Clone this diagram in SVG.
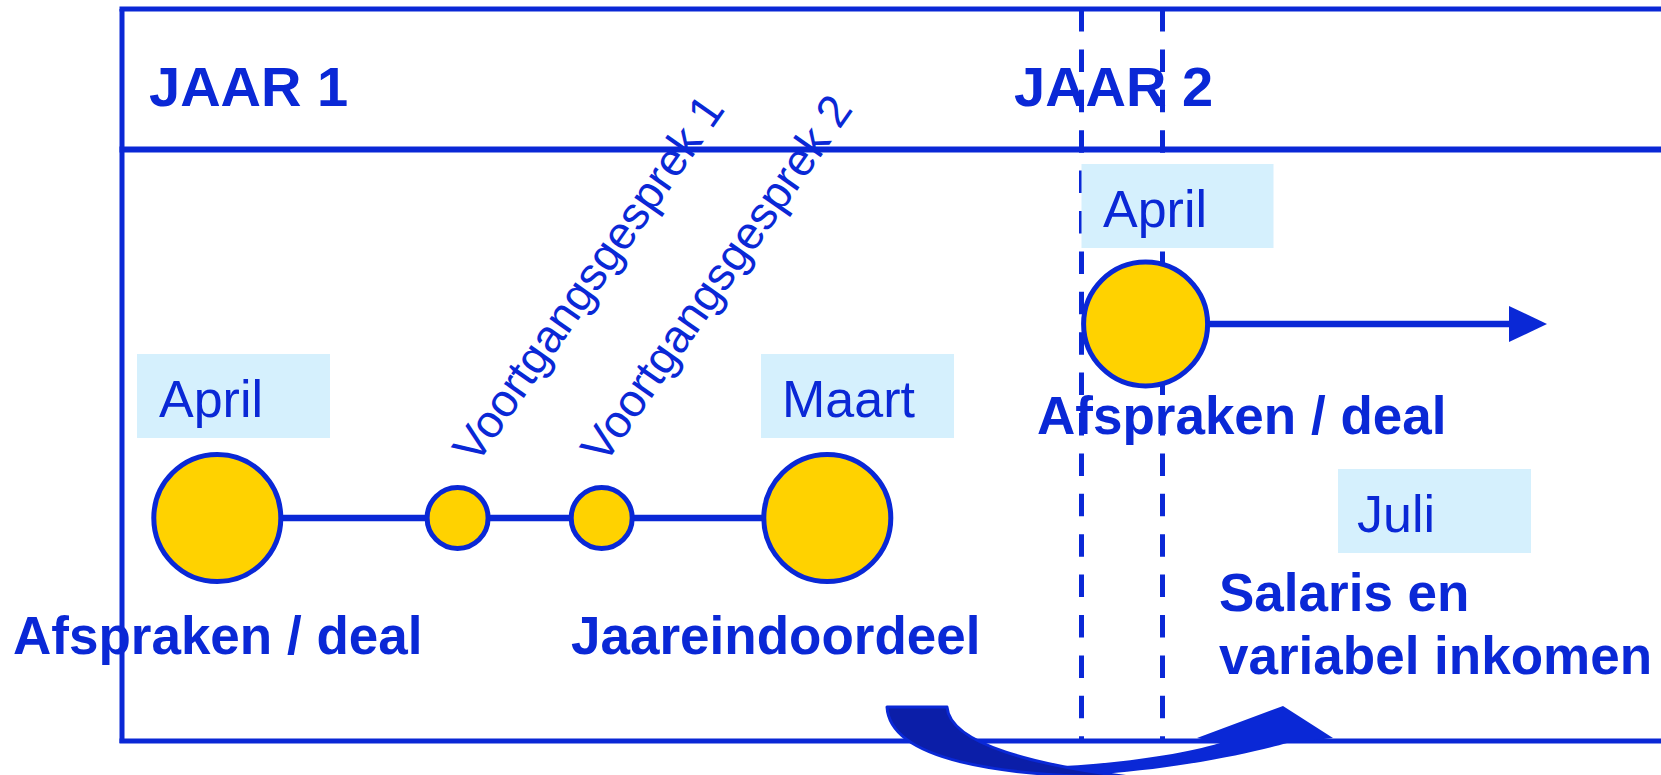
<svg xmlns="http://www.w3.org/2000/svg" width="1661" height="775" viewBox="0 0 1661 775">
<style>
.ln{stroke:#0A28D6;fill:none}
.box{fill:#D5F0FD}
.dot{fill:#FFD200;stroke:#0A28D6;stroke-width:5}
.reg{font-family:"Liberation Sans",Arial,sans-serif;font-size:52px;fill:#0A28D6}
.bold{font-family:"Liberation Sans",Arial,sans-serif;font-size:53px;font-weight:bold;fill:#0A28D6}
.hdr{font-family:"Liberation Sans",Arial,sans-serif;font-size:56px;font-weight:bold;fill:#0A28D6}
.rot{font-family:"Liberation Sans",Arial,sans-serif;font-size:46px;fill:#0A28D6}
</style>
<rect width="1661" height="775" fill="#FFFFFF"/>
<g id="frame">
<line class="ln" x1="119.5" y1="9" x2="1661" y2="9" stroke-width="5"/>
<line class="ln" x1="122" y1="9" x2="122" y2="743" stroke-width="5"/>
<line class="ln" x1="119.5" y1="149.5" x2="1661" y2="149.5" stroke-width="6"/>
<line class="ln" x1="119.5" y1="741" x2="1661" y2="741" stroke-width="5"/>
<line class="ln" x1="1081.5" y1="9" x2="1081.5" y2="741" stroke-width="5" stroke-dasharray="22.5 17.9"/>
<line class="ln" x1="1162.5" y1="9" x2="1162.5" y2="741" stroke-width="5" stroke-dasharray="22.5 17.9"/>
</g>
<g id="headers">
<text class="hdr" x="149" y="106">JAAR 1</text>
<text class="hdr" x="1014" y="106">JAAR 2</text>
</g>
<g id="connectors">
<line class="ln" x1="280" y1="518" x2="765" y2="518" stroke-width="6.5"/>
<line class="ln" x1="1208" y1="324" x2="1512" y2="324" stroke-width="6.5"/>
<polygon points="1509,306 1547,324 1509,342" fill="#0A28D6"/>
<path d="M1040,767 C1110,765 1180,755 1220,743 L1197,738 L1283,706 L1333,738 L1287,743 C1255,752 1185,768 1100,774 C1080,776 1060,777 1040,777 Z" fill="#0A28D6"/>
<path d="M887,707 L947,707 C950,745 1040,766 1130,777 C1000,777 890,760 887,707 Z" fill="#0B1EA8" stroke="#0A28D6" stroke-width="3" stroke-linejoin="round"/>
</g>
<g id="node-april-1">
<rect class="box" x="137" y="354" width="193" height="84"/>
<text class="reg" x="159" y="416.5">April</text>
<circle class="dot" cx="217.3" cy="518" r="63.5"/>
<text class="bold" x="13" y="654">Afspraken / deal</text>
</g>
<g id="node-voortgang-1">
<circle class="dot" cx="457.6" cy="518" r="30.5"/>
<text class="rot" transform="translate(476.5,465.5) rotate(-55)">Voortgangsgesprek 1</text>
</g>
<g id="node-voortgang-2">
<circle class="dot" cx="601.7" cy="518" r="30.5"/>
<text class="rot" transform="translate(604.5,465.5) rotate(-55)">Voortgangsgesprek 2</text>
</g>
<g id="node-maart">
<rect class="box" x="761" y="354" width="193" height="84"/>
<text class="reg" x="782" y="416.5">Maart</text>
<circle class="dot" cx="827.3" cy="518" r="63.5"/>
<text class="bold" x="571" y="654">Jaareindoordeel</text>
</g>
<g id="node-april-2">
<rect class="box" x="1081.5" y="164" width="192" height="84"/>
<text class="reg" x="1103" y="227">April</text>
<circle class="dot" cx="1145.6" cy="324" r="62"/>
<text class="bold" x="1037" y="434">Afspraken / deal</text>
</g>
<g id="node-juli">
<rect class="box" x="1338" y="469" width="193" height="84"/>
<text class="reg" x="1357" y="531.5">Juli</text>
<text class="bold" x="1219" y="611">Salaris en</text>
<text class="bold" x="1219" y="674">variabel inkomen</text>
</g>
</svg>
